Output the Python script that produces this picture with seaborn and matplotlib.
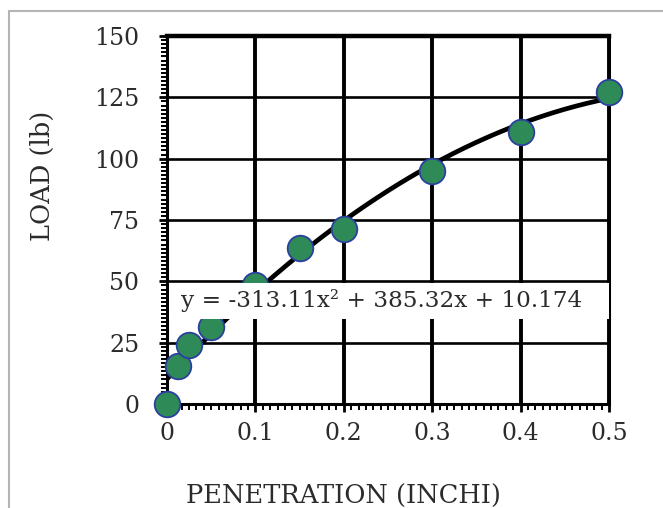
import matplotlib
matplotlib.use("Agg")
import matplotlib.pyplot as plt
import seaborn as sns
import numpy as np
import pandas as pd
from matplotlib.ticker import MultipleLocator
from matplotlib.patches import Rectangle

# ---- data ----
penetration = [0.0, 0.0125, 0.025, 0.05, 0.1, 0.15, 0.2, 0.3, 0.4, 0.5]
load = [0.0, 15.6, 24.0, 31.5, 48.6, 63.5, 71.3, 95.0, 111.0, 127.0]
trend_coef = [-313.11, 385.32, 10.174]   # y = a x^2 + b x + c (chart's trendline)
equation_text = "y = -313.11x² + 385.32x + 10.174"
x_ticks = [0, 0.1, 0.2, 0.3, 0.4, 0.5]
x_tick_labels = ["0", "0.1", "0.2", "0.3", "0.4", "0.5"]
y_ticks = [0, 25, 50, 75, 100, 125, 150]
x_label = "PENETRATION (INCHI)"
y_label = "LOAD (lb)"

sns.set_style("white")
plt.rcParams["font.family"] = ["DejaVu Serif"]

W, H = 663, 508
fig = plt.figure(figsize=(W / 100, H / 100), dpi=100)
ax = fig.add_axes([167 / W, 1 - 404 / H, (609 - 167) / W, (404 - 36) / H])

df = pd.DataFrame({"x": penetration, "y": load})
xs = np.linspace(min(penetration), max(penetration), 200)
trend = pd.DataFrame({"x": xs, "y": np.polyval(trend_coef, xs)})

sns.lineplot(data=trend, x="x", y="y", ax=ax, color="black", lw=3.4, zorder=3)
sns.scatterplot(data=df, x="x", y="y", ax=ax, s=340, color="#2E8B57",
                edgecolor="#2B3FA0", linewidth=1.3, zorder=4, clip_on=False)

ax.set_xlim(0, 0.5)
ax.set_ylim(0, 150)
ax.set_xticks(x_ticks)
ax.set_xticklabels(x_tick_labels)
ax.set_yticks(y_ticks)
ax.xaxis.set_minor_locator(MultipleLocator(0.1 / 12))
ax.yaxis.set_minor_locator(MultipleLocator(25 / 15))

ax.xaxis.grid(True, which="major", color="black", lw=2.8, zorder=1)
ax.yaxis.grid(True, which="major", color="black", lw=1.9, zorder=1)
ax.set_axisbelow(True)

for side, lw in [("top", 3.2), ("right", 2.2), ("left", 2.2), ("bottom", 2.2)]:
    ax.spines[side].set_visible(True)
    ax.spines[side].set_color("black")
    ax.spines[side].set_linewidth(lw)

ax.tick_params(axis="both", which="major", direction="out", length=6,
               width=2, color="black", labelsize=17, labelcolor="#2b2b2b")
ax.tick_params(axis="x", which="major", pad=7)
ax.tick_params(axis="y", which="major", pad=14)
ax.tick_params(axis="both", which="minor", direction="out", length=4,
               width=1.4, color="black")
ax.tick_params(bottom=True, left=True, which="both")

ax.set_xlabel(x_label, fontsize=18.5, color="#2b2b2b")
ax.set_ylabel(y_label, fontsize=18.5, color="#2b2b2b")
ax.xaxis.set_label_coords((343.5 - 167) / 442, (404 - 496) / 368)
ax.xaxis.label.set_va("center")
ax.yaxis.set_label_coords((42 - 167) / 442, (404 - 176) / 368)
ax.yaxis.label.set_va("center")

# equation label box
box = Rectangle((0.005, (404 - 319) / 368), 0.995, (319 - 283) / 368,
                transform=ax.transAxes, facecolor="white", edgecolor="none",
                zorder=5)
ax.add_patch(box)
ax.text((181 - 167) / 442, (404 - 301) / 368, equation_text, transform=ax.transAxes,
        fontsize=16.7, color="#2b2b2b", va="center", ha="left", zorder=6)

# figure border (gray, top and left)
fig.patches.append(Rectangle((9 / W, -0.1), 1.2, 1.1 - 11 / H, transform=fig.transFigure,
                             facecolor="none", edgecolor="#b5b5b5", lw=1.5))

fig.savefig("out.png", dpi=100)
